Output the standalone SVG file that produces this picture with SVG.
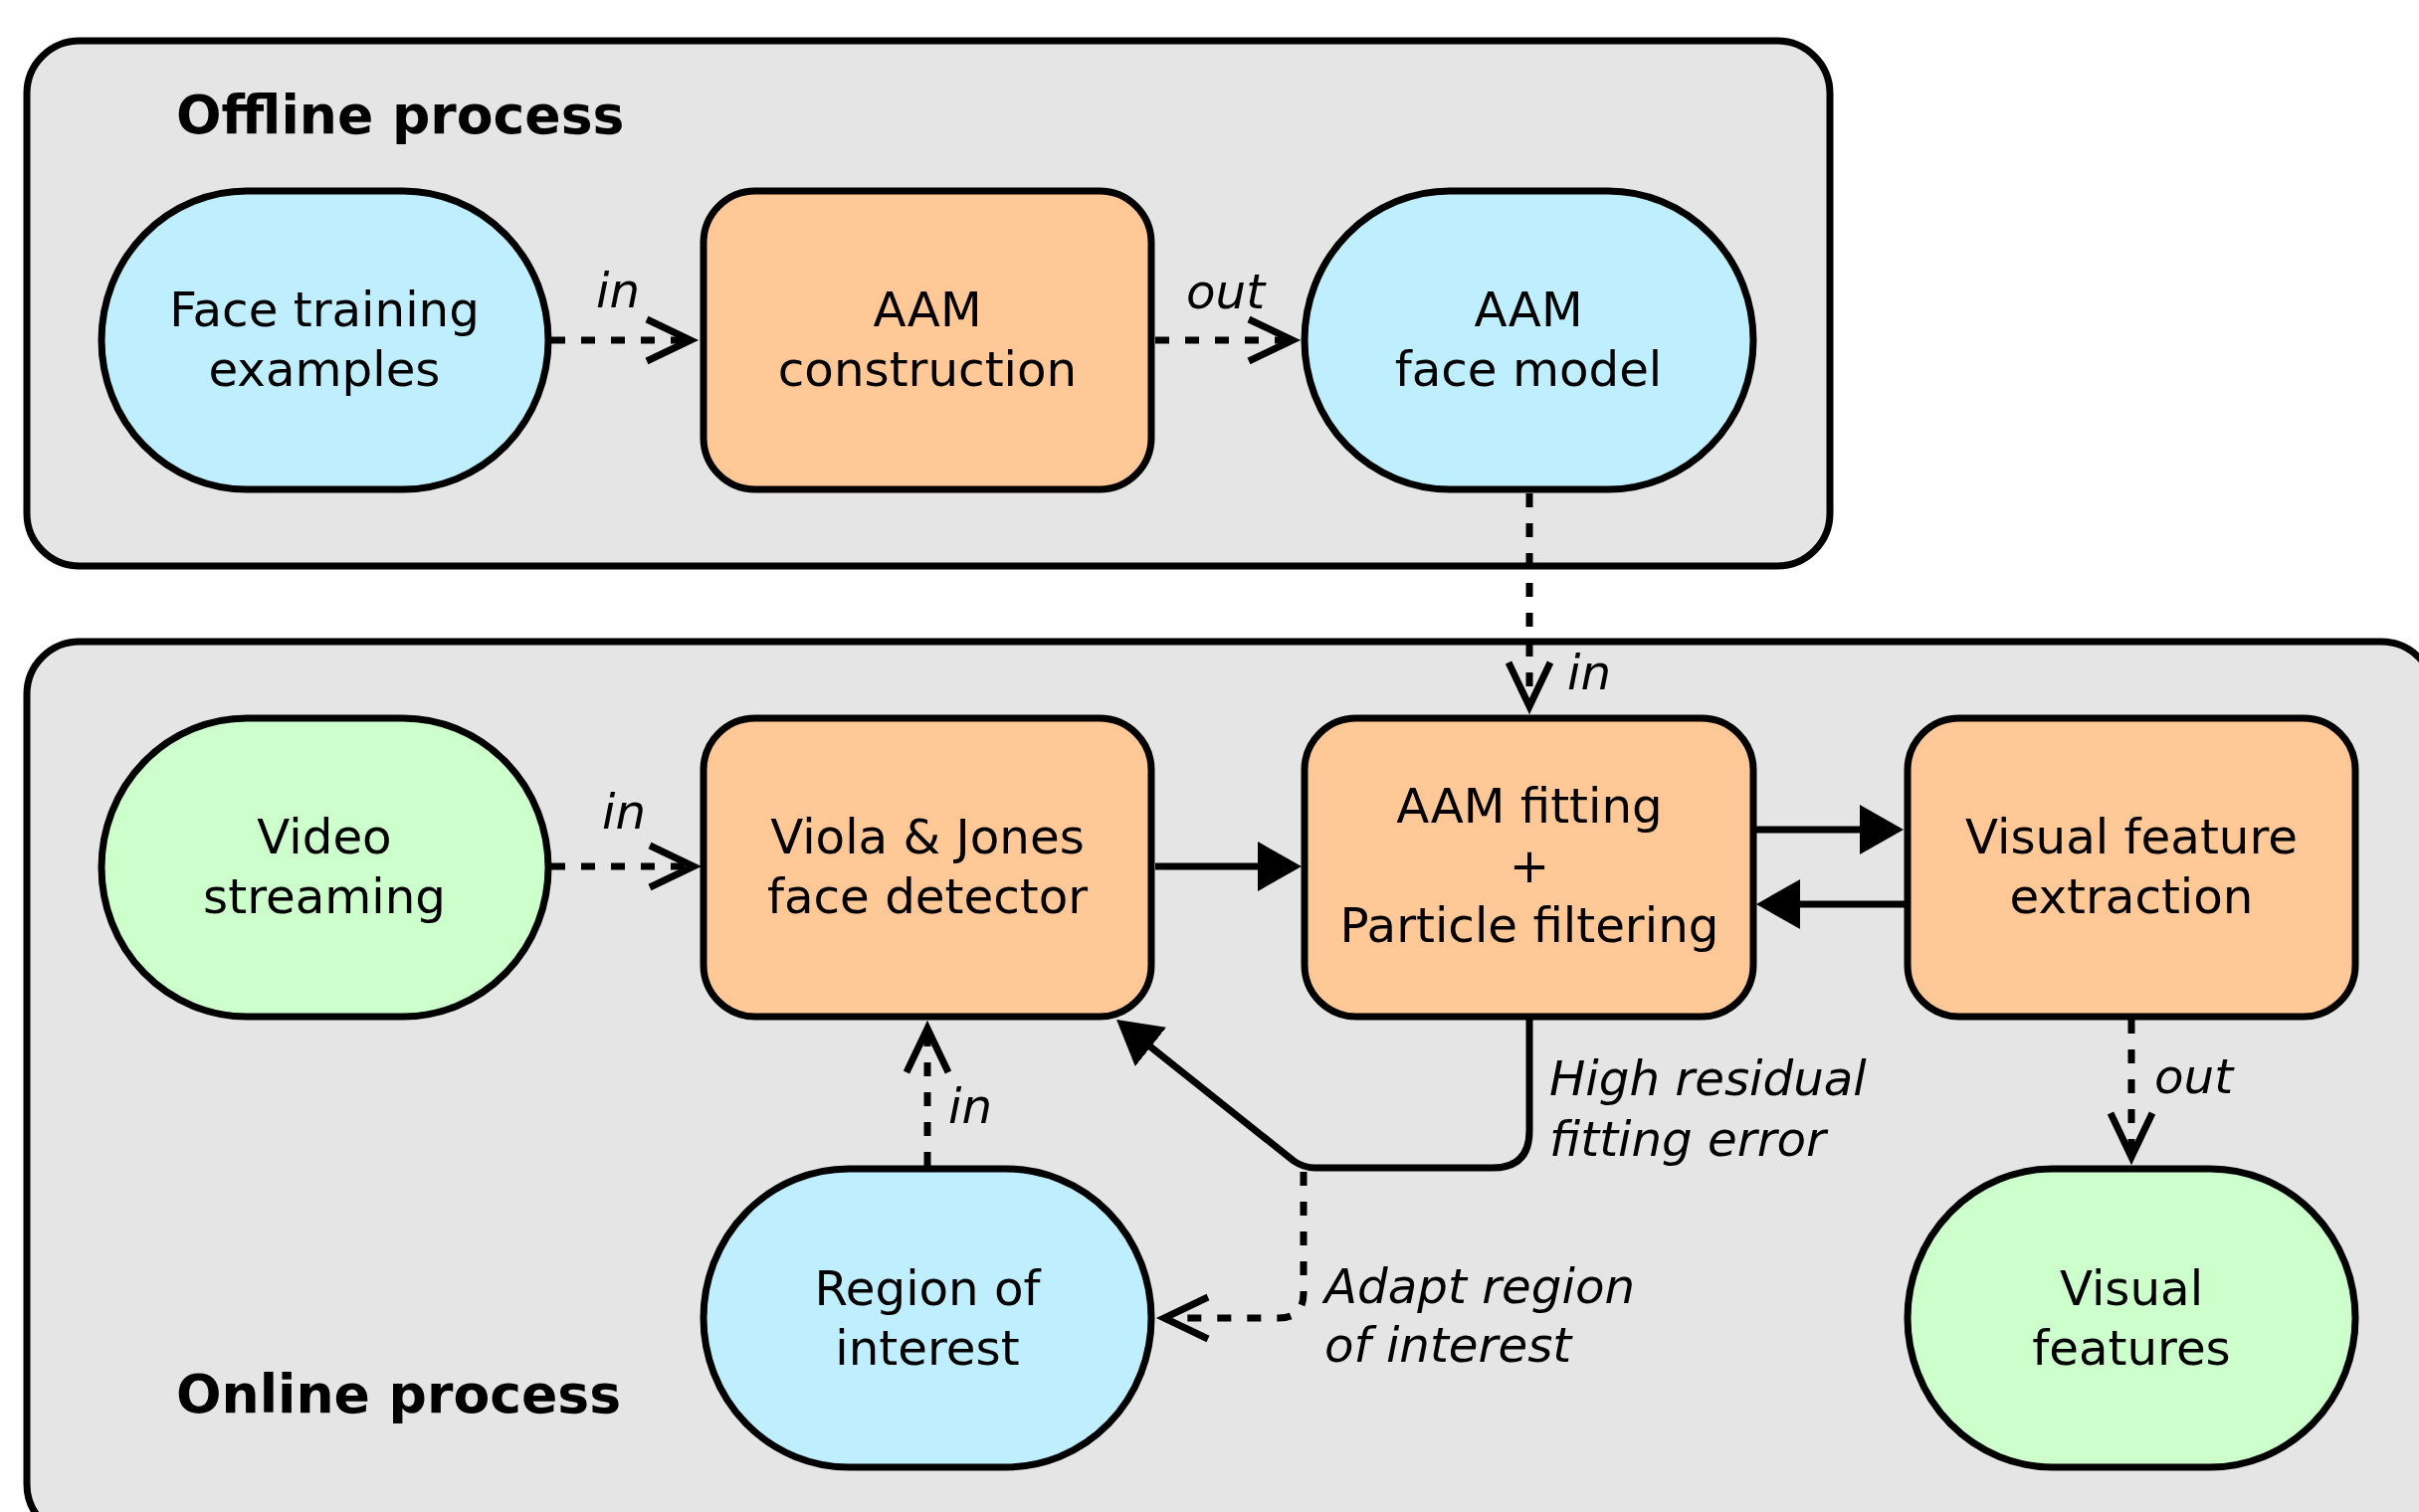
<svg xmlns="http://www.w3.org/2000/svg" width="2431" height="1520" viewBox="0 0 2431 1520">
<style>
.box{fill:#e5e5e5;stroke:#000;stroke-width:7}
.data{fill:#bfefff;stroke:#000;stroke-width:7}
.io{fill:#ccffcc;stroke:#000;stroke-width:7}
.proc{fill:#ffc896;stroke:#000;stroke-width:7}
.t{font-family:"DejaVu Sans","Liberation Sans",sans-serif;font-size:48.3px;fill:#000;text-anchor:middle}
.title{font-family:"DejaVu Sans","Liberation Sans",sans-serif;font-size:53.6px;font-weight:bold;fill:#000}
.lab{font-family:"DejaVu Sans","Liberation Sans",sans-serif;font-size:48.3px;font-style:italic;fill:#000}
.solid{fill:none;stroke:#000;stroke-width:7;marker-end:url(#tri)}
.dash{fill:none;stroke:#000;stroke-width:7;stroke-dasharray:14 16;marker-end:url(#chev)}
</style>
<defs>
<marker id="tri" markerUnits="userSpaceOnUse" viewBox="0 0 44 50" markerWidth="44" markerHeight="50" refX="4" refY="25" orient="auto">
<path d="M0,0 L44,25 L0,50 Z" fill="#000"/>
</marker>
<marker id="chev" markerUnits="userSpaceOnUse" viewBox="-10 -10 70 62" markerWidth="70" markerHeight="62" refX="44" refY="21" orient="auto" style="overflow:visible">
<path d="M0,0 L44,21 L0,42" fill="none" stroke="#000" stroke-width="7" stroke-linejoin="miter" stroke-miterlimit="10"/>
</marker>
</defs>

<g id="offline">
<rect class="box" x="27" y="41" width="1812" height="528" rx="53" ry="53"/>
<text class="title" x="177" y="134">Offline process</text>
</g>
<g id="online">
<rect class="box" x="27" y="645" width="2419" height="900" rx="53" ry="53"/>
<text class="title" x="177" y="1420">Online process</text>
</g>

<g id="face-training">
<rect class="data" x="102" y="192" width="449" height="300" rx="146" ry="150"/>
<text class="t" x="326" y="328">Face training</text>
<text class="t" x="326" y="388">examples</text>
</g>
<g id="aam-construction">
<rect class="proc" x="707" y="192" width="450" height="300" rx="52" ry="52"/>
<text class="t" x="932" y="328">AAM</text>
<text class="t" x="932" y="388">construction</text>
</g>
<g id="aam-face-model">
<rect class="data" x="1311" y="192" width="451" height="300" rx="146" ry="150"/>
<text class="t" x="1536" y="328">AAM</text>
<text class="t" x="1536" y="388">face model</text>
</g>

<g id="video-streaming">
<rect class="io" x="102" y="722" width="449" height="300" rx="146" ry="150"/>
<text class="t" x="326" y="858">Video</text>
<text class="t" x="326" y="918">streaming</text>
</g>
<g id="viola-jones">
<rect class="proc" x="707" y="722" width="450" height="300" rx="52" ry="52"/>
<text class="t" x="932" y="858">Viola &amp; Jones</text>
<text class="t" x="932" y="918">face detector</text>
</g>
<g id="aam-fitting">
<rect class="proc" x="1311" y="722" width="451" height="300" rx="52" ry="52"/>
<text class="t" x="1537" y="827">AAM fitting</text>
<text class="t" x="1537" y="887">+</text>
<text class="t" x="1537" y="947">Particle filtering</text>
</g>
<g id="visual-feature-extraction">
<rect class="proc" x="1917" y="722" width="450" height="300" rx="52" ry="52"/>
<text class="t" x="2142" y="858">Visual feature</text>
<text class="t" x="2142" y="918">extraction</text>
</g>

<g id="region-of-interest">
<rect class="data" x="707" y="1175" width="450" height="300" rx="146" ry="150"/>
<text class="t" x="932" y="1312">Region of</text>
<text class="t" x="932" y="1372">interest</text>
</g>
<g id="visual-features">
<rect class="io" x="1917" y="1175" width="450" height="300" rx="146" ry="150"/>
<text class="t" x="2142" y="1312">Visual</text>
<text class="t" x="2142" y="1372">features</text>
</g>

<g id="connectors">
<path class="dash" d="M554,342 H694"/>
<path class="dash" d="M1161,342 H1299"/>
<path class="dash" d="M1537,496 V710"/>
<path class="dash" d="M554,871 H697"/>
<path class="solid" d="M1161,871 H1268"/>
<path class="solid" d="M1765,834 H1873"/>
<path class="solid" d="M1914,909 H1805"/>
<path class="dash" d="M932,1172 V1034"/>
<path class="dash" d="M2142,1025 V1163"/>
<path class="solid" d="M1537,1025 V1137 Q1537,1174 1500,1174 H1322 Q1310,1174 1300,1167 L1153.3,1049.9"/>
<path class="dash" d="M1310,1178 V1300 Q1310,1325 1285,1325 H1170"/>
<text class="lab" x="599" y="309">in</text>
<text class="lab" x="1192" y="310">out</text>
<text class="lab" x="1575" y="693">in</text>
<text class="lab" x="605" y="833">in</text>
<text class="lab" x="953" y="1129">in</text>
<text class="lab" x="2165" y="1099">out</text>
<text class="lab" x="1557" y="1101">High residual</text>
<text class="lab" x="1557" y="1162">fitting error</text>
<text class="lab" x="1331" y="1310">Adapt region</text>
<text class="lab" x="1331" y="1369">of interest</text>
</g>
</svg>
